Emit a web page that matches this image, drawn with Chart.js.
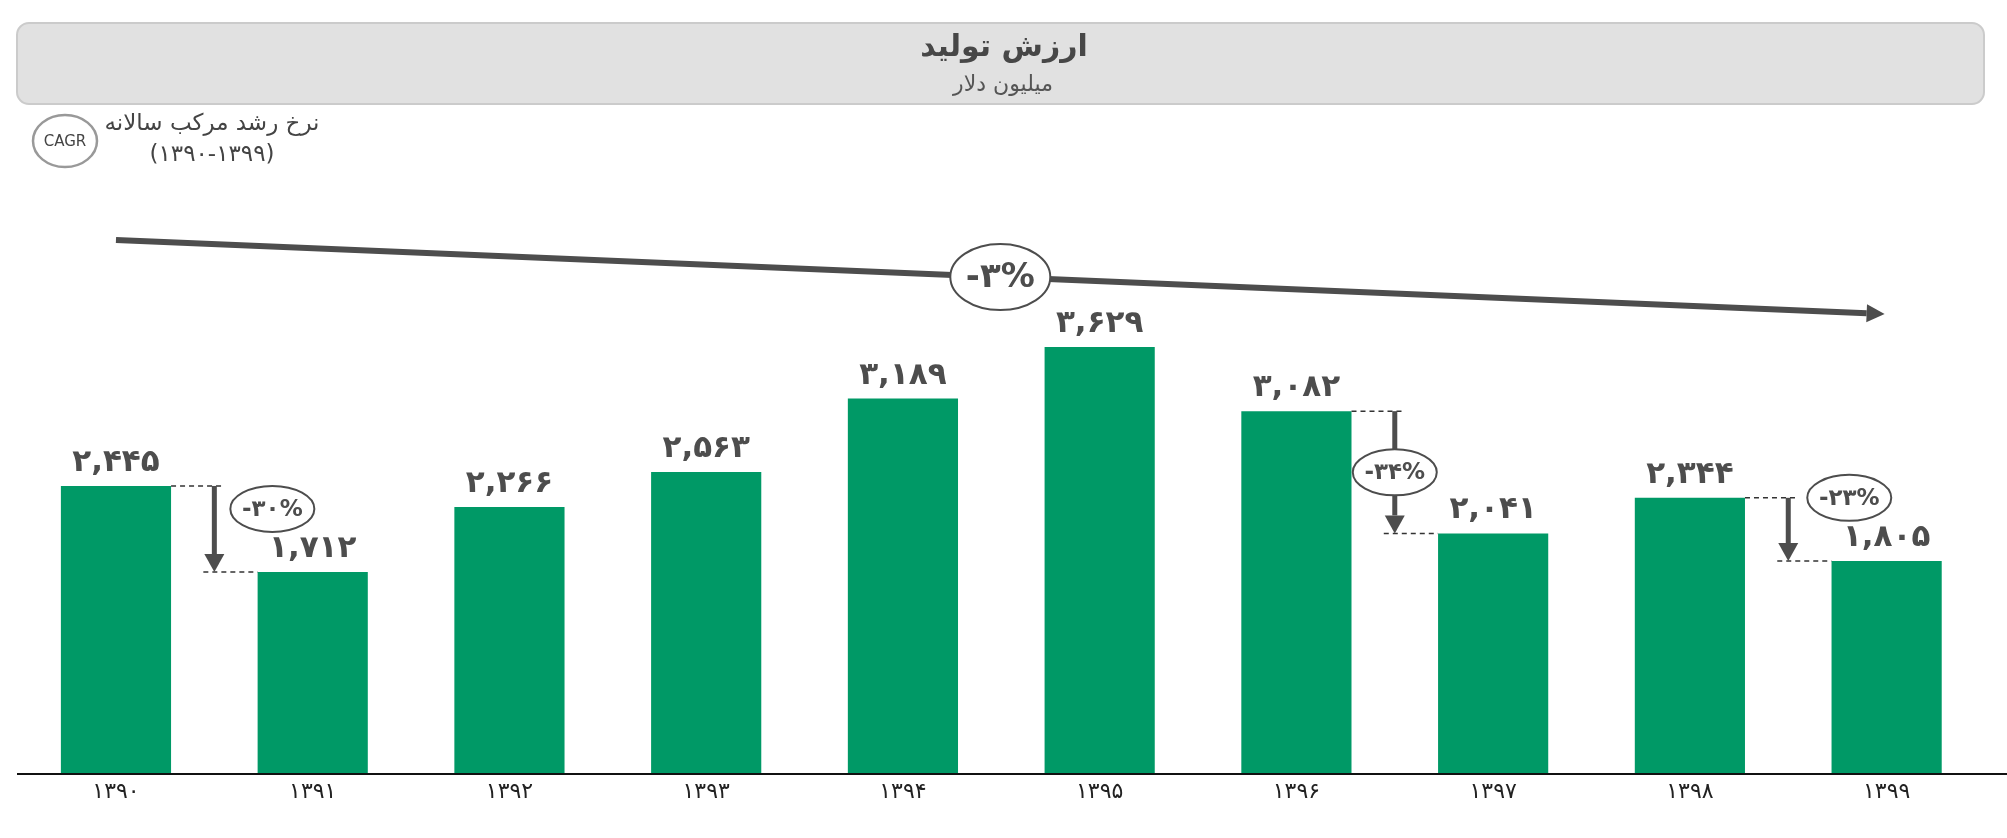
<!DOCTYPE html>
<html lang="fa">
<head>
<meta charset="utf-8">
<title>ارزش تولید</title>
<script src="https://cdn.jsdelivr.net/npm/chart.js@4.4.1/dist/chart.umd.min.js"></script>
<style>
  html, body { margin: 0; padding: 0; background: #fff; }
  canvas { display: block; }
</style>
</head>
<body>
<canvas id="arzesh_tolid" width="2007" height="838"></canvas>
<script>
// داده ها
const salha = ['۱۳۹۰', '۱۳۹۱', '۱۳۹۲', '۱۳۹۳', '۱۳۹۴', '۱۳۹۵', '۱۳۹۶', '۱۳۹۷', '۱۳۹۸', '۱۳۹۹'];
const arzesh = [2445, 1712, 2266, 2563, 3189, 3629, 3082, 2041, 2344, 1805];
const kahesh_az = [0, 6, 8];
const kahesh_ta = [1, 7, 9];
const kahesh_darsad = ['-۳۰%', '-۳۴%', '-۲۳%'];
const cagr_darsad = '-۳%';

const onvan = 'ارزش تولید';
const zironvan = 'میلیون دلار';
const cagr_matn1 = 'نرخ رشد مرکب سالانه';
const cagr_matn2 = '(۱۳۹۰\u200E-\u200E۱۳۹۹)';

const FONT = '"DejaVu Sans", sans-serif';
const RANG_MATN = '#4d4d4d';

// جای برچسب کاهش نسبت به فلش: [dx, dy] یا null یعنی وسط فلش
const jaye_barchasb = [[58, 23], null, [61, 0]];
// سر و ته فلش CAGR بر حسب مقدار محور
const cagr_y = [4540, 3910];

const faNum = s => String(s).replace(/\d/g, d => '۰۱۲۳۴۵۶۷۸۹'[d]);
const ghaleb = v => faNum(v.toLocaleString('en-US'));

function beyzi(c, x, y, rx, ry, matn, font) {
  c.beginPath();
  c.ellipse(x, y, rx, ry, 0, 0, 2 * Math.PI);
  c.fillStyle = '#fff';
  c.fill();
  c.lineWidth = 2;
  c.strokeStyle = RANG_MATN;
  c.stroke();
  c.font = font;
  c.fillStyle = RANG_MATN;
  c.textAlign = 'center';
  c.textBaseline = 'middle';
  c.fillText(matn, x, y + 1);
}

function feleshSar(c, x1, y1, x2, y2, pahna, tool, arz) {
  const zav = Math.atan2(y2 - y1, x2 - x1);
  const bx = x2 - tool * Math.cos(zav), by = y2 - tool * Math.sin(zav);
  c.beginPath();
  c.moveTo(x1, y1);
  c.lineTo(bx, by);
  c.lineWidth = pahna;
  c.strokeStyle = RANG_MATN;
  c.stroke();
  c.beginPath();
  c.moveTo(x2, y2);
  c.lineTo(bx + arz * Math.sin(zav), by - arz * Math.cos(zav));
  c.lineTo(bx - arz * Math.sin(zav), by + arz * Math.cos(zav));
  c.closePath();
  c.fillStyle = RANG_MATN;
  c.fill();
}

const sarbarg = {
  id: 'sarbarg',
  beforeDraw(chart) {
    const c = chart.ctx;
    c.save();
    c.beginPath();
    c.roundRect(17, 23, 1967, 81, 12);
    c.fillStyle = '#e1e1e1';
    c.fill();
    c.lineWidth = 2;
    c.strokeStyle = '#cbcbcb';
    c.stroke();

    c.textAlign = 'center';
    c.textBaseline = 'middle';
    c.fillStyle = '#474747';
    c.font = 'bold 30px ' + FONT;
    c.fillText(onvan, 1004, 48);
    c.fillStyle = '#555';
    c.font = '22px ' + FONT;
    c.fillText(zironvan, 1003, 85);

    c.beginPath();
    c.ellipse(65, 141, 32, 26, 0, 0, 2 * Math.PI);
    c.fillStyle = '#fff';
    c.fill();
    c.lineWidth = 2.5;
    c.strokeStyle = '#999';
    c.stroke();
    c.fillStyle = '#444';
    c.font = '15px ' + FONT;
    c.fillText('CAGR', 65, 142);
    c.font = '23px ' + FONT;
    c.fillText(cagr_matn1, 212, 124);
    c.fillText(cagr_matn2, 212, 155);
    c.restore();
  }
};

const yaddasht = {
  id: 'yaddasht',
  afterDatasetsDraw(chart) {
    const c = chart.ctx;
    const bars = chart.getDatasetMeta(0).data;
    const ys = chart.scales.y;
    c.save();

    // خط محور
    c.beginPath();
    c.moveTo(17, chart.chartArea.bottom + 1);
    c.lineTo(2007, chart.chartArea.bottom + 1);
    c.lineWidth = 2;
    c.strokeStyle = '#111';
    c.stroke();

    // برچسب مقدار
    c.font = 'bold 31px ' + FONT;
    c.fillStyle = RANG_MATN;
    c.textAlign = 'center';
    c.textBaseline = 'alphabetic';
    bars.forEach((b, i) => c.fillText(ghaleb(arzesh[i]), b.x, b.y - 15));

    // فلش CAGR
    const x1 = bars[0].x, x2 = bars[bars.length - 1].x - 2;
    const y1 = ys.getPixelForValue(cagr_y[0]), y2 = ys.getPixelForValue(cagr_y[1]);
    feleshSar(c, x1, y1, x2, y2, 6, 18, 9);
    beyzi(c, (x1 + x2) / 2, (y1 + y2) / 2, 50, 33, cagr_darsad, 'bold 34px ' + FONT);

    // فلش های کاهش
    kahesh_az.forEach((a, k) => {
      const ba = bars[a], bb = bars[kahesh_ta[k]];
      const xl = ba.x + ba.width / 2, xr = bb.x - bb.width / 2;
      const xm = (xl + xr) / 2;
      const yb = ba.y, yp = bb.y;
      c.setLineDash([5, 4]);
      c.lineWidth = 1.5;
      c.strokeStyle = '#333';
      c.beginPath();
      c.moveTo(xl, yb); c.lineTo(xm + 9, yb);
      c.moveTo(xm - 11, yp); c.lineTo(xr, yp);
      c.stroke();
      c.setLineDash([]);
      feleshSar(c, xm, yb, xm, yp, 5, 18, 10);
      const j = jaye_barchasb[k];
      const lx = j ? xm + j[0] : xm;
      const ly = j ? yb + j[1] : (yb + yp) / 2;
      beyzi(c, lx, ly, 42, 23, kahesh_darsad[k], 'bold 23px ' + FONT);
    });
    c.restore();
  }
};

new Chart(document.getElementById('arzesh_tolid').getContext('2d'), {
  type: 'bar',
  data: {
    labels: salha,
    datasets: [{
      label: onvan,
      data: arzesh,
      backgroundColor: '#009966',
      borderWidth: 0,
      barPercentage: 0.56,
      categoryPercentage: 1
    }]
  },
  options: {
    responsive: false,
    devicePixelRatio: 1,
    animation: false,
    layout: { padding: { top: 186, left: 17.6, right: 22, bottom: 0 } },
    plugins: {
      legend: { display: false },
      tooltip: { enabled: false },
      title: { display: false }
    },
    scales: {
      x: {
        grid: { display: false, drawTicks: false },
        border: { display: false },
        ticks: { color: '#222', padding: 6, font: { family: FONT, size: 22 } },
        afterFit: s => { s.height = 65; }
      },
      y: { display: false, min: 0, max: 5000 }
    }
  },
  plugins: [sarbarg, yaddasht]
});
</script>
</body>
</html>
